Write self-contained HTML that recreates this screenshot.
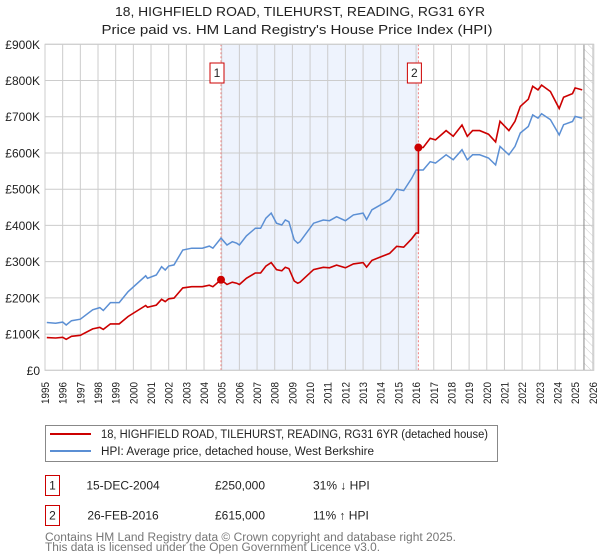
<!DOCTYPE html>
<html><head><meta charset="utf-8"><style>
html,body{margin:0;padding:0;background:#fff;width:600px;height:560px;overflow:hidden;font-family:"Liberation Sans","DejaVu Sans",sans-serif;}
svg{display:block}
</style></head><body>
<svg id="chart" width="600" height="560" xmlns="http://www.w3.org/2000/svg" font-family="Liberation Sans, DejaVu Sans, sans-serif"></svg>
<script>
const hpiYears=[1995.1,1995.6,1996.0,1996.2,1996.5,1997.0,1997.7,1998.1,1998.3,1998.7,1999.2,1999.7,2000.7,2000.8,2001.3,2001.6,2001.8,2002.0,2002.3,2002.8,2003.3,2003.9,2004.3,2004.5,2004.96,2005.3,2005.6,2005.85,2006.0,2006.4,2006.9,2007.2,2007.5,2007.8,2008.1,2008.4,2008.6,2008.8,2009.1,2009.3,2009.43,2010.2,2010.75,2011.1,2011.5,2012.0,2012.45,2013.0,2013.2,2013.5,2014.0,2014.5,2014.9,2015.3,2015.75,2016.0,2016.13,2016.4,2016.8,2017.1,2017.7,2018.1,2018.6,2018.9,2019.2,2019.6,2020.1,2020.5,2020.75,2021.25,2021.6,2021.9,2022.35,2022.6,2022.9,2023.1,2023.6,2024.1,2024.35,2024.85,2025.0,2025.4];
const hpiValues=[132,130,133,125,137,141,167,173,165,187,187,217,261,254,263,286,277,288,291,332,337,337,343,337,365,346,355,351,346,371,392,392,420,434,406,401,415,410,360,351,355,406,415,413,424,413,429,434,416,443,457,471,500,496,530,553,553,553,576,572,595,581,609,581,595,595,586,567,618,595,618,655,673,705,696,708,692,650,678,687,701,696];
const saleYears=[2004.96,2016.13];
const salePrices=[250,615];
const saleLabels=["1","2"];
const yTicks=[0,100,200,300,400,500,600,700,800,900];
const yTickLabels=["£0","£100K","£200K","£300K","£400K","£500K","£600K","£700K","£800K","£900K"];
const xTicks=[1995,1996,1997,1998,1999,2000,2001,2002,2003,2004,2005,2006,2007,2008,2009,2010,2011,2012,2013,2014,2015,2016,2017,2018,2019,2020,2021,2022,2023,2024,2025,2026];

const svg=document.getElementById('chart');
const NS='http://www.w3.org/2000/svg';
const X0=45,X1=592.8,Y0=370.3,Y1=44.3;
const xs=y=>X0+(y-1995)/(2026-1995)*(X1-X0);
const ys=v=>Y0-v/900*(Y0-Y1);
function mk(tag,attrs,parent){const e=document.createElementNS(NS,tag);for(const k in attrs)e.setAttribute(k,attrs[k]);(parent||svg).appendChild(e);return e;}
function interp(t){for(let i=1;i<hpiYears.length;i++){if(t<=hpiYears[i]){const a=hpiYears[i-1],b=hpiYears[i];return hpiValues[i-1]+(hpiValues[i]-hpiValues[i-1])*(t-a)/(b-a);}}return hpiValues[hpiValues.length-1];}

let t=mk('text',{x:300,y:16,'text-anchor':'middle','font-size':13,fill:'#222',textLength:370,lengthAdjust:'spacingAndGlyphs'});


t.textContent='18, HIGHFIELD ROAD, TILEHURST, READING, RG31 6YR';
t=mk('text',{x:297,y:34,'text-anchor':'middle','font-size':13,fill:'#222',textLength:391,lengthAdjust:'spacingAndGlyphs'});


t.textContent="Price paid vs. HM Land Registry's House Price Index (HPI)";

let r=mk('rect',{x:xs(saleYears[0]),y:Y1,width:xs(saleYears[1])-xs(saleYears[0]),height:Y0-Y1,fill:'#eef3fd'});


const defs=mk('defs',{});
const pat=mk('pattern',{id:'hatch',width:6,height:6,patternUnits:'userSpaceOnUse',patternTransform:'rotate(-45)'},defs);
mk('line',{x1:0,y1:0,x2:0,y2:6,stroke:'#ccc','stroke-width':1},pat);
r=mk('rect',{x:xs(2025.5),y:Y1,width:X1-xs(2025.5)+1,height:Y0-Y1,fill:'url(#hatch)'});



yTicks.forEach((v,i)=>{
 const l=mk('line',{x1:X0,x2:X1+1,y1:ys(v),y2:ys(v),stroke:'#cccccc','stroke-width':1});
 
 
 const tx=mk('text',{x:40,y:ys(v)+4.5,'text-anchor':'end','font-size':12,fill:'#222'});
 
 
 tx.textContent=yTickLabels[i];
});
xTicks.forEach(yr=>{
 const x=xs(yr);
 const l=mk('line',{x1:x,x2:x,y1:Y1,y2:Y0,stroke:'#cccccc','stroke-width':1});
 
 
 const tx=mk('text',{x:0,y:0,'text-anchor':'end','font-size':11,fill:'#222',textLength:22,lengthAdjust:'spacingAndGlyphs',transform:`translate(${x+4},382) rotate(-90)`});
 
 
 tx.textContent=String(yr);
});
let vl=mk('line',{x1:xs(2025.5),x2:xs(2025.5),y1:Y1,y2:Y0,stroke:'#888','stroke-width':1});



saleYears.forEach((sy,i)=>{
 const l=mk('line',{x1:xs(sy),x2:xs(sy),y1:Y1,y2:Y0,stroke:'#f08080','stroke-width':1,'stroke-dasharray':'2,2'});
 
 
});

let d='';
hpiYears.forEach((yr,i)=>{d+=(i?'L':'M')+xs(yr).toFixed(1)+','+ys(hpiValues[i]).toFixed(1);});
let p=mk('path',{d:d,fill:'none',stroke:'#5b8fd4','stroke-width':1.5});



const r1=salePrices[0]/interp(saleYears[0]);
const r2=salePrices[1]/interp(saleYears[1]);
let pd='';let first=true;
hpiYears.forEach((yr,i)=>{
 if(yr<saleYears[1]){pd+=(first?'M':'L')+xs(yr).toFixed(1)+','+ys(hpiValues[i]*r1).toFixed(1);first=false;}
});
pd+='L'+xs(saleYears[1]).toFixed(1)+','+ys(interp(saleYears[1])*r1).toFixed(1);
pd+='L'+xs(saleYears[1]).toFixed(1)+','+ys(salePrices[1]).toFixed(1);
hpiYears.forEach((yr,i)=>{if(yr>saleYears[1])pd+='L'+xs(yr).toFixed(1)+','+ys(hpiValues[i]*r2).toFixed(1);});
p=mk('path',{d:pd,fill:'none',stroke:'#cc0000','stroke-width':1.6});



saleYears.forEach((sy,i)=>{
 const c=mk('circle',{cx:xs(sy),cy:ys(salePrices[i]),r:4,fill:'#cc0000'});
 
 
 const bx=xs(sy)-11;
 const b=mk('rect',{x:bx,y:63,width:14,height:20,fill:'#fff',stroke:'#cc0000','stroke-width':1});
 
 
 const tx=mk('text',{x:bx+7,y:77,'text-anchor':'middle','font-size':12,fill:'#222'});
 
 
 tx.textContent=saleLabels[i];
});
let bd=mk('rect',{x:X0,y:Y1,width:X1-X0+1,height:Y0-Y1,fill:'none',stroke:'#cccccc','stroke-width':1});



const lg=mk('g',{});


mk('rect',{x:45.5,y:425.5,width:452,height:36,fill:'#fff',stroke:'#888','stroke-width':1},lg);
let ll=mk('line',{x1:50,x2:91,y1:434,y2:434,stroke:'#cc0000','stroke-width':2},lg);


let lt=mk('text',{x:101,y:438,'font-size':11.5,fill:'#222',textLength:387,lengthAdjust:'spacingAndGlyphs'},lg);


lt.textContent='18, HIGHFIELD ROAD, TILEHURST, READING, RG31 6YR (detached house)';
ll=mk('line',{x1:50,x2:91,y1:451,y2:451,stroke:'#5b8fd4','stroke-width':2},lg);


lt=mk('text',{x:101,y:455,'font-size':11.5,fill:'#222',textLength:273,lengthAdjust:'spacingAndGlyphs'},lg);


lt.textContent='HPI: Average price, detached house, West Berkshire';

const rows=[["1","15-DEC-2004","£250,000","31% ↓ HPI"],["2","26-FEB-2016","£615,000","11% ↑ HPI"]];
rows.forEach((row,i)=>{
 const y=475.5+i*30;
 const g=mk('g',{});
 
 
 mk('rect',{x:45.5,y:y,width:14,height:20,fill:'#fff',stroke:'#cc0000','stroke-width':1},g);
 const vals=[[52.5,'middle',row[0]],[123,'middle',row[1]],[240,'middle',row[2]],[313,'start',row[3]]];
 vals.forEach(v=>{const tx=mk('text',{x:v[0],y:y+14,'text-anchor':v[1],'font-size':12,fill:'#222'},g);tx.textContent=v[2];});
});
let f=mk('text',{x:45,y:541,'font-size':11.5,fill:'#777',textLength:411,lengthAdjust:'spacingAndGlyphs'});


f.textContent='Contains HM Land Registry data © Crown copyright and database right 2025.';
f=mk('text',{x:45,y:551,'font-size':11.5,fill:'#777',textLength:335,lengthAdjust:'spacingAndGlyphs'});


f.textContent='This data is licensed under the Open Government Licence v3.0.';
</script>
</body></html>
